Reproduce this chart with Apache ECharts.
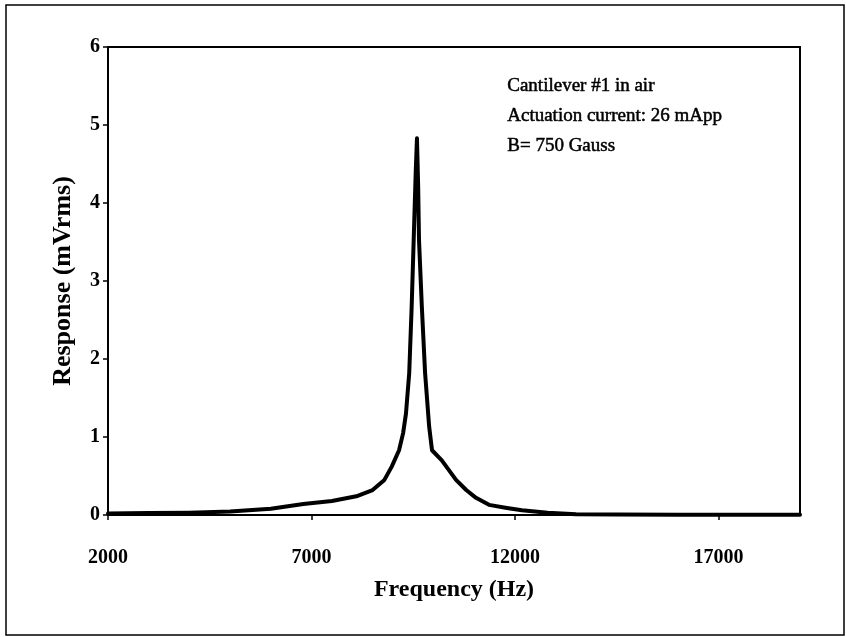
<!DOCTYPE html>
<html>
<head>
<meta charset="utf-8">
<script src="https://cdn.jsdelivr.net/npm/echarts@6/dist/echarts.min.js"></script>
<style>
  html, body { margin: 0; padding: 0; background: #fff; }
  #chart { width: 846px; height: 637px; }
</style>
</head>
<body>
<div id="chart"></div>
<script>
// Frequency sweep of cantilever #1 in air
const frequencyHz = [2000, 3000, 4000, 5000, 6000, 6800, 7500, 8100, 8500, 8790, 8970, 9150, 9250, 9320, 9400, 9460, 9510, 9560, 9590, 9620, 9640, 9710, 9790, 9890, 9960, 10200, 10550, 10800, 11040, 11360, 11800, 12170, 12800, 13500, 14500, 16000, 19000];
const responseMv = [0.02, 0.025, 0.03, 0.045, 0.08, 0.14, 0.18, 0.24, 0.32, 0.45, 0.62, 0.83, 1.05, 1.30, 1.82, 2.67, 3.53, 4.40, 4.83, 4.20, 3.53, 2.67, 1.82, 1.13, 0.83, 0.70, 0.45, 0.32, 0.22, 0.13, 0.09, 0.06, 0.03, 0.01, 0.005, 0.003, 0.002];
const xTicks = [2000, 7000, 12000, 17000];
const yTicks = [0, 1, 2, 3, 4, 5, 6];
const noteLines = ['Cantilever #1 in air', 'Actuation current: 26 mApp', 'B= 750 Gauss'];

const serif = '"Liberation Serif", "DejaVu Serif", serif';
const points = frequencyHz.map((f, i) => [f, responseMv[i]]);

const chart = echarts.init(document.getElementById('chart'));
chart.setOption({
  animation: false,
  backgroundColor: '#fff',
  grid: { left: 108, right: 46, top: 47, bottom: 122, show: true, borderColor: '#000', borderWidth: 2, backgroundColor: 'transparent' },
  xAxis: {
    type: 'value', min: 2000, max: 19000,
    name: 'Frequency (Hz)', nameLocation: 'middle', nameGap: 63,
    nameTextStyle: { fontFamily: serif, fontWeight: 'bold', fontSize: 24, color: '#000' },
    axisLine: { show: true, lineStyle: { color: '#000', width: 2 } },
    axisTick: { show: true, length: 5, customValues: xTicks, lineStyle: { color: '#000', width: 1.5 } },
    axisLabel: { customValues: xTicks, margin: 33, fontFamily: serif, fontWeight: 'bold', fontSize: 20, color: '#000',
      formatter: v => String(v) },
    splitLine: { show: false }
  },
  yAxis: {
    type: 'value', min: 0, max: 6, interval: 1,
    name: 'Response (mVrms)', nameLocation: 'middle', nameGap: 32,
    nameTextStyle: { fontFamily: serif, fontWeight: 'bold', fontSize: 26, color: '#000' },
    axisLine: { show: true, lineStyle: { color: '#000', width: 2 } },
    axisTick: { show: true, length: 5, lineStyle: { color: '#000', width: 1.5 } },
    axisLabel: { margin: 8, fontFamily: serif, fontWeight: 'bold', fontSize: 20, color: '#000',
      formatter: v => yTicks.includes(v) ? String(v) : '' },
    splitLine: { show: false }
  },
  series: [{
    type: 'line', data: points, showSymbol: false, smooth: false,
    lineStyle: { color: '#000', width: 4, join: 'round', cap: 'round' }
  }],
  graphic: [
    { type: 'rect', shape: { x: 6, y: 5, width: 838, height: 630 }, style: { fill: 'none', stroke: '#000', lineWidth: 1.5 }, z: 0 },
    ...noteLines.map((t, i) => ({
      type: 'text', left: 507, top: 76 + i * 30,
      style: { text: t, font: '19px ' + serif, fill: '#000', stroke: '#000', lineWidth: 0.5 }
    }))
  ]
});
</script>
</body>
</html>
